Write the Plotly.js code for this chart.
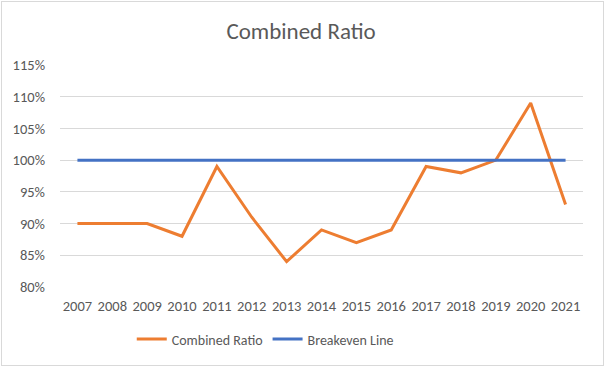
<!DOCTYPE html>
<html>
<head>
<meta charset="utf-8">
<script src="https://cdn.plot.ly/plotly-3.0.1.min.js"></script>
<style>
html,body{margin:0;padding:0;background:#fff;}
#wrap{position:relative;width:607px;height:369px;}
#chart{width:607px;height:369px;}
#frame{position:absolute;left:1px;top:1px;width:601px;height:363px;border:1px solid #d9d9d9;pointer-events:none;}
</style>
</head>
<body>
<div id="wrap"><div id="chart"></div><div id="frame"></div></div>
<script>
const years = ['2007','2008','2009','2010','2011','2012','2013','2014','2015','2016','2017','2018','2019','2020','2021'];
const combinedRatio = [0.90,0.90,0.90,0.88,0.99,0.91,0.84,0.89,0.87,0.89,0.99,0.98,1.00,1.09,0.93];
const breakeven = [1,1,1,1,1,1,1,1,1,1,1,1,1,1,1];
const yTicks = [0.80,0.85,0.90,0.95,1.00,1.05,1.10,1.15];

const font = 'Carlito, Calibri, "Open Sans", "Liberation Sans", sans-serif';

const traces = [
  {x: years, y: combinedRatio, name: 'Combined Ratio', type: 'scatter', mode: 'lines',
   line: {color: '#ED7D31', width: 3}},
  {x: years, y: breakeven, name: 'Breakeven Line', type: 'scatter', mode: 'lines',
   line: {color: '#4472C4', width: 3}}
];

const layout = {
  width: 607, height: 369,
  margin: {l: 60, r: 24, t: 65, b: 82},
  paper_bgcolor: '#fff', plot_bgcolor: '#fff',
  title: {text: 'Combined Ratio', x: 0.496, xref: 'container', xanchor: 'center', y: 0.915, yref: 'container', yanchor: 'middle',
          font: {family: font, size: 23, color: '#595959'}},
  font: {family: font, size: 14, color: '#595959'},
  showlegend: true,
  legend: {orientation: 'h', x: 0.437, xanchor: 'center', xref: 'container', y: 0.08, yref: 'container', yanchor: 'middle',
           font: {family: font, size: 14, color: '#595959'}, itemwidth: 30, tracegroupgap: 0},
  xaxis: {type: 'category', range: [-0.5, 14.5], showgrid: false, zeroline: false, showline: false, ticks: '',
          ticklabelstandoff: 8, tickfont: {family: font, size: 14.5, color: '#595959'}, fixedrange: true},
  yaxis: {range: [0.80, 1.15], tickvals: yTicks, tickformat: '.0%', showgrid: true, gridcolor: '#d9d9d9', gridwidth: 1,
          zeroline: false, showline: false, ticks: '', ticklabelstandoff: 14,
          tickfont: {family: font, size: 14.5, color: '#595959'}, fixedrange: true},
  hovermode: false
};

Plotly.newPlot('chart', traces, layout, {displayModeBar: false, staticPlot: true});
</script>
</body>
</html>
